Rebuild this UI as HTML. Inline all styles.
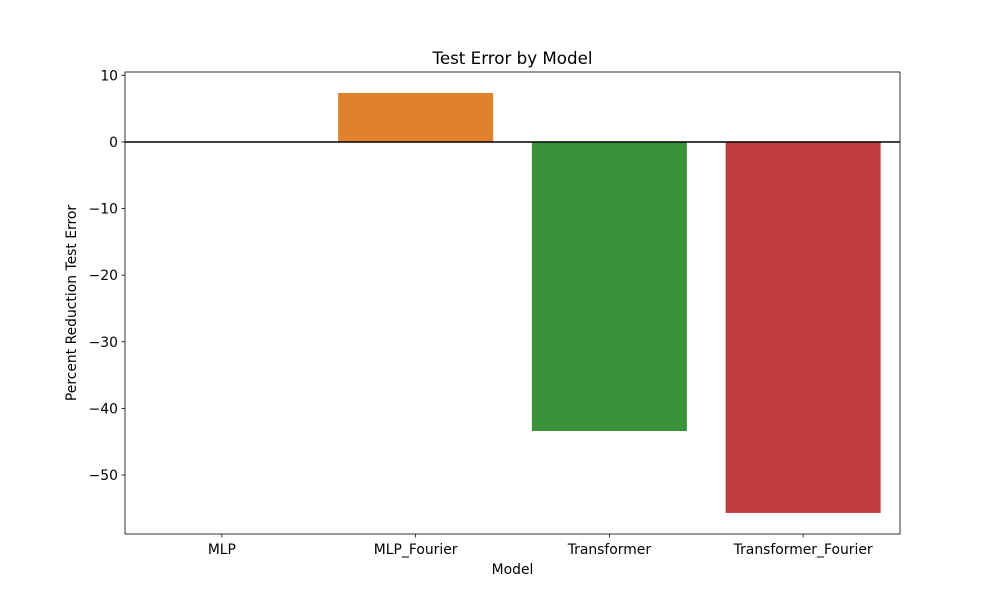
<!DOCTYPE html>
<html><head><meta charset="utf-8"><style>body{margin:0;background:#fff}svg{display:block}text{font-family:"DejaVu Sans","Liberation Sans",sans-serif;fill:#000}</style></head>
<body>
<svg id="chart" width="1000" height="600" xmlns="http://www.w3.org/2000/svg">
<rect width="1000" height="600" fill="#fff"/>
<g id="bars"></g>
<g id="axes"></g>
<text x="512.5" y="64" font-size="16.7" text-anchor="middle">Test Error by Model</text>
<text x="512.5" y="574" font-size="13.9" text-anchor="middle">Model</text>
<text transform="translate(76,303) rotate(-90)" font-size="13.9" text-anchor="middle">Percent Reduction Test Error</text>
</svg>
<script>
const categories = ["MLP","MLP_Fourier","Transformer","Transformer_Fourier"];
const values = [0, 7.35, -43.4, -55.7];
const colors = ["#3274a1","#e1812c","#3a923a","#c03d3e"];
const yTicks = [10,0,-10,-20,-30,-40,-50];
const yTickLabels = ["10","0","\u221210","\u221220","\u221230","\u221240","\u221250"];
const L=125,R=900,T=72,B=534,yMin=-58.86,yMax=10.5;
const NS="http://www.w3.org/2000/svg";
function y(v){return T+(yMax-v)/(yMax-yMin)*(B-T);}
function x(i){return L+(i+0.5)/categories.length*(R-L);}
const bw=0.8*(R-L)/categories.length;
function mk(tag,attrs,parent){const e=document.createElementNS(NS,tag);for(const k in attrs)e.setAttribute(k,attrs[k]);parent.appendChild(e);return e;}
const bars=document.getElementById('bars'),axes=document.getElementById('axes');
categories.forEach((c,i)=>{
  const v=values[i];
  const r=mk('rect',{x:x(i)-bw/2,y:Math.min(y(v),y(0)),width:bw,height:Math.abs(y(v)-y(0)),fill:colors[i]},bars);
  
  
  const t=mk('line',{x1:x(i),x2:x(i),y1:B,y2:B+3.5,stroke:'#000','stroke-width':0.8},axes);
  
  
  const lb=mk('text',{x:x(i),y:B+20,'font-size':13.9,'text-anchor':'middle'},axes);
  lb.textContent=c;
  
  
});
yTicks.forEach((v,i)=>{
  const t=mk('line',{x1:L-3.5,x2:L,y1:y(v),y2:y(v),stroke:'#000','stroke-width':0.8},axes);
  
  
  const lb=mk('text',{x:L-7,y:y(v)+5,'font-size':13.9,'text-anchor':'end'},axes);
  lb.textContent=yTickLabels[i];
  
  
});
const zl=mk('line',{x1:L,x2:R,y1:y(0),y2:y(0),stroke:'#000','stroke-width':1.5},axes);


const fr=mk('rect',{x:L,y:T,width:R-L,height:B-T,fill:'none',stroke:'#000','stroke-width':0.8},axes);


</script>
</body></html>
